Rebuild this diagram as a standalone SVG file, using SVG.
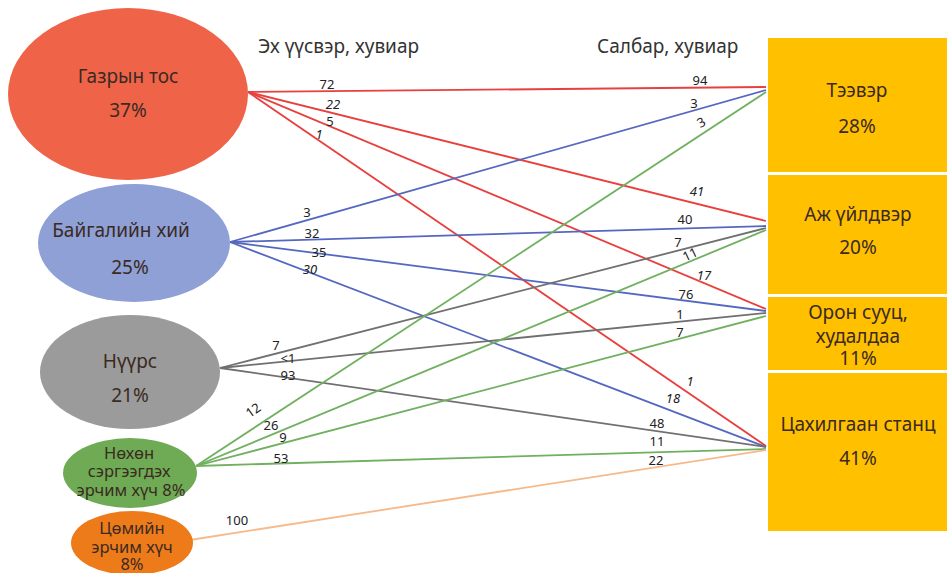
<svg xmlns="http://www.w3.org/2000/svg" width="947" height="573" viewBox="0 0 947 573">
<style>
.hdr{font-family:"Noto Sans","Open Sans",sans-serif;font-size:19px;fill:#333}
.nt{font-family:"Noto Sans","Open Sans",sans-serif;font-size:19px;fill:#3a2a22;text-anchor:middle}
.ns{font-family:"Noto Sans","Open Sans",sans-serif;font-size:16.5px;fill:#3a2a22;text-anchor:middle}
.lb{font-family:"Noto Sans","Open Sans",sans-serif;font-size:13px;fill:#222;text-anchor:middle}
.it{font-style:italic}
.box{fill:#FFC000}
.c line{stroke-width:1.8;fill:none}
.r{stroke:#E8403E}.b{stroke:#5568C0}.g{stroke:#707070}.gr{stroke:#70B060}.o{stroke:#F6B98A}
</style>
<rect width="947" height="573" fill="#fff"/>
<text class="hdr" x="258" y="53">Эх үүсвэр, хувиар</text>
<text class="hdr" x="597" y="53">Салбар, хувиар</text>

<g id="n-teever"><rect class="box" x="768" y="38" width="179" height="134"/><text class="nt" x="857" y="97">Тээвэр</text><text class="nt" x="857" y="133">28%</text></g>
<g id="n-aj"><rect class="box" x="768" y="175" width="179" height="119"/><text class="nt" x="858" y="221">Аж үйлдвэр</text><text class="nt" x="858" y="254">20%</text></g>
<g id="n-oron"><rect class="box" x="768" y="297" width="179" height="73"/><text class="nt" x="858" y="319">Орон сууц,</text><text class="nt" x="858" y="343">худалдаа</text><text class="nt" x="858" y="365">11%</text></g>
<g id="n-tsah"><rect class="box" x="768" y="373" width="179" height="158"/><text class="nt" x="858" y="431">Цахилгаан станц</text><text class="nt" x="858" y="465">41%</text></g>

<g class="c" id="connectors">
<line class="r" x1="248" y1="92" x2="766" y2="87"/>
<line class="r" x1="248" y1="92" x2="766" y2="221"/>
<line class="r" x1="248" y1="92" x2="766" y2="309"/>
<line class="r" x1="248" y1="92" x2="766" y2="446"/>
<line class="b" x1="230" y1="242" x2="766" y2="90"/>
<line class="b" x1="230" y1="242" x2="766" y2="226"/>
<line class="b" x1="230" y1="242" x2="766" y2="311"/>
<line class="b" x1="230" y1="242" x2="766" y2="447"/>
<line class="g" x1="220" y1="368" x2="766" y2="228"/>
<line class="g" x1="220" y1="368" x2="766" y2="313"/>
<line class="g" x1="220" y1="368" x2="766" y2="447"/>
<line class="gr" x1="196" y1="466" x2="766" y2="92"/>
<line class="gr" x1="196" y1="466" x2="766" y2="230"/>
<line class="gr" x1="196" y1="466" x2="766" y2="316"/>
<line class="gr" x1="196" y1="466" x2="766" y2="449"/>
<line class="o" x1="190" y1="540" x2="766" y2="450"/>
</g>

<g id="n-oil"><ellipse cx="128" cy="94" rx="120" ry="86" fill="#EF6449"/><text class="nt" x="128" y="83">Газрын тос</text><text class="nt" x="128" y="117">37%</text></g>
<g id="n-gas"><ellipse cx="134" cy="243" rx="96" ry="59" fill="#8EA0D6"/><text class="nt" x="121" y="237">Байгалийн хий</text><text class="nt" x="130" y="274">25%</text></g>
<g id="n-coal"><ellipse cx="130" cy="372" rx="90" ry="57" fill="#9B9B9B"/><text class="nt" x="130" y="368">Нүүрс</text><text class="nt" x="130" y="402">21%</text></g>
<g id="n-renew"><ellipse cx="130" cy="473" rx="67" ry="35" fill="#6FAA55"/><text class="ns" x="129" y="459">Нөхөн</text><text class="ns" x="129" y="477">сэргээгдэх</text><text class="ns" x="131" y="496">эрчим хүч 8%</text></g>
<g id="n-nuc"><ellipse cx="132" cy="543" rx="61" ry="32" fill="#EE7B1A"/><text class="ns" x="132" y="534">Цөмийн</text><text class="ns" x="132" y="553">эрчим хүч</text><text class="ns" x="132" y="570">8%</text></g>

<g id="labels">
<text class="lb" x="327" y="89">72</text>
<text class="lb it" x="333" y="109">22</text>
<text class="lb" x="330" y="126">5</text>
<text class="lb it" x="319" y="139">1</text>
<text class="lb" x="700" y="85">94</text>
<text class="lb" x="694" y="108">3</text>
<text class="lb" x="701" y="127" transform="rotate(-30 701 122)">3</text>
<text class="lb it" x="697" y="196">41</text>
<text class="lb" x="685" y="224">40</text>
<text class="lb" x="678" y="247">7</text>
<text class="lb" x="690" y="259" transform="rotate(-25 690 254)">11</text>
<text class="lb it" x="704" y="280">17</text>
<text class="lb" x="686" y="299">76</text>
<text class="lb" x="680" y="319">1</text>
<text class="lb" x="680" y="337">7</text>
<text class="lb" x="307" y="217">3</text>
<text class="lb" x="312" y="238">32</text>
<text class="lb" x="319" y="257">35</text>
<text class="lb it" x="310" y="274">30</text>
<text class="lb" x="276" y="350">7</text>
<text class="lb" x="288" y="363">&lt;1</text>
<text class="lb" x="288" y="380">93</text>
<text class="lb" x="253" y="415" transform="rotate(-35 253 410)">12</text>
<text class="lb" x="271" y="430">26</text>
<text class="lb" x="283" y="442">9</text>
<text class="lb" x="281" y="463">53</text>
<text class="lb it" x="690" y="386">1</text>
<text class="lb it" x="673" y="403">18</text>
<text class="lb" x="657" y="428">48</text>
<text class="lb" x="657" y="446">11</text>
<text class="lb" x="656" y="465">22</text>
<text class="lb" x="237" y="525">100</text>
</g>
</svg>
